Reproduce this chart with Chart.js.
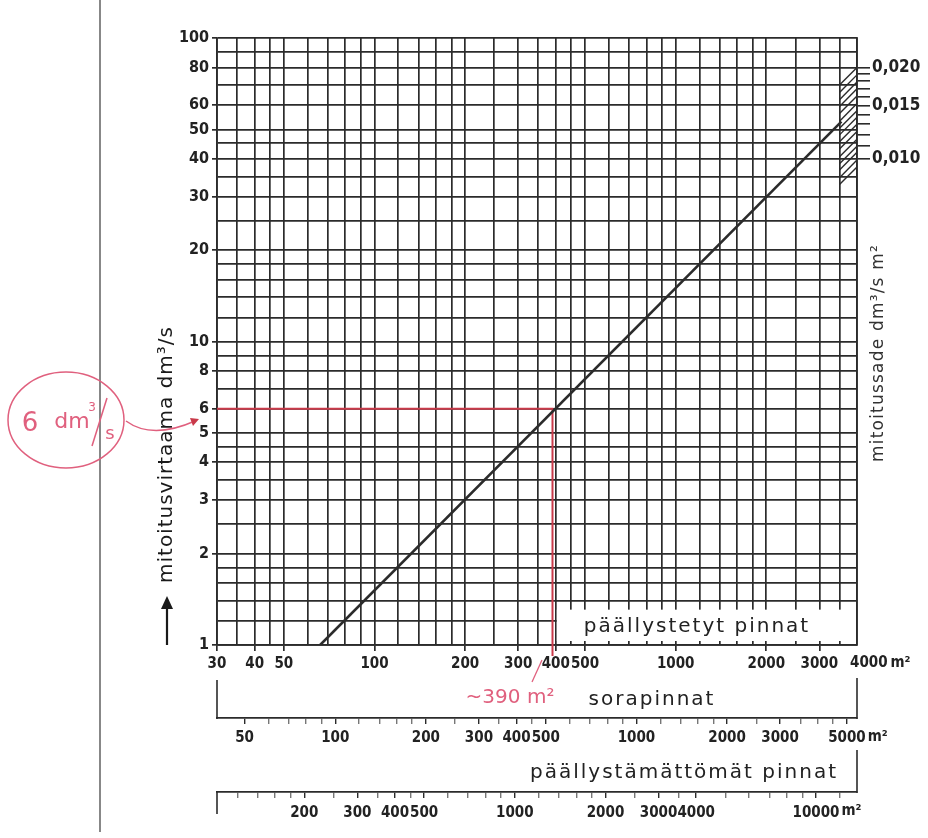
<!DOCTYPE html>
<html>
<head>
<meta charset="utf-8">
<script src="https://cdn.jsdelivr.net/npm/chart.js@4.4.1/dist/chart.umd.min.js"></script>
<style>
  html, body { margin: 0; padding: 0; background: #fff; }
  #wrap { width: 928px; height: 838px; position: relative; }
</style>
</head>
<body>
<div id="wrap"><canvas id="nomogram"></canvas></div>
<script>
// päällystetyt pinnat (m2) - grid lines and labelled ticks
const gridX  = [30,35,40,45,50,60,70,80,90,100,120,140,160,180,200,250,300,350,400,450,500,600,700,800,900,1000,1200,1400,1600,1800,2000,2500,3000,3500,4000];
const labelX = [30,40,50,100,200,300,400,500,1000,2000,3000];

// mitoitusvirtaama dm3/s
const gridY  = [1,1.2,1.4,1.6,1.8,2,2.5,3,3.5,4,4.5,5,6,7,8,9,10,12,14,16,18,20,25,30,35,40,45,50,60,70,80,90,100];
const labelY = [1,2,3,4,5,6,8,10,20,30,40,50,60,80,100];

// sorapinnat (m2)
const gravelTicks  = [50,60,70,80,90,100,120,140,160,180,200,250,300,350,400,450,500,600,700,800,900,1000,1200,1400,1600,1800,2000,2500,3000,3500,4000,4500,5000];
const gravelLabels = [50,100,200,300,400,500,1000,2000,3000,5000];

// päällystämättömät pinnat (m2)
const unpavedTicks  = [120,140,160,180,200,250,300,350,400,450,500,600,700,800,900,1000,1200,1400,1600,1800,2000,2500,3000,3500,4000,5000,6000,7000,8000,9000,10000,12000];
const unpavedLabels = [200,300,400,500,1000,2000,3000,4000,10000];

// mitoitussade dm3/s m2 (right scale)
const rainTicks  = [0.010,0.011,0.012,0.013,0.014,0.015,0.016,0.017,0.018,0.019,0.020];
const rainLabels = [0.010,0.015,0.020];

// design line (area m2 -> flow dm3/s)
const lineArea = [66, 3550];
const lineFlow = [1, 53];

// red reading: 6 dm3/s -> ~390 m2
const readArea = [30, 390, 390];
const readFlow = [6, 6, 1];

// hatched fan at the right edge
const hatchRates = [0.0094,0.0099,0.0105,0.0110,0.0116,0.0123,0.0130,0.0137,0.0144,0.0152,0.0161,0.0170,0.0179,0.0189,0.0200];
const hatchFrom = 3500;
const hatchTo = 4000;

const INK = '#2b2b2b';
const RED = '#c93a4a';
const PINK = '#e0607e';
const FONT = 'DejaVu Sans';
const TICKFONT = "'DejaVu Sans Condensed', 'DejaVu Sans'";

function fmt(v) {
  return String(v);
}

const datasets = [];
datasets.push({
  data: lineArea.map((a, i) => ({x: a, y: lineFlow[i]})),
  borderColor: INK,
  borderWidth: 2.6
});
datasets.push({
  data: readArea.map((a, i) => ({x: a, y: readFlow[i]})),
  borderColor: RED,
  borderWidth: 2
});
for (let q of hatchRates) {
  datasets.push({
    data: [{x: hatchFrom, y: q * hatchFrom}, {x: hatchTo, y: q * hatchTo}],
    borderColor: INK,
    borderWidth: 1.4
  });
}

function rotText(ctx, txt, x, y, font, color, spacing) {
  ctx.save();
  ctx.translate(x, y);
  ctx.rotate(-Math.PI / 2);
  ctx.font = font;
  ctx.fillStyle = color;
  ctx.letterSpacing = spacing || '0px';
  ctx.textAlign = 'left';
  ctx.textBaseline = 'middle';
  ctx.fillText(txt, 0, 0);
  ctx.restore();
}

function label(ctx, txt, x, y, font, color, spacing, align) {
  ctx.save();
  ctx.font = font;
  ctx.fillStyle = color;
  ctx.letterSpacing = spacing || '0px';
  ctx.textAlign = align || 'center';
  ctx.textBaseline = 'middle';
  ctx.fillText(txt, x, y);
  ctx.restore();
}

function seg(ctx, x1, y1, x2, y2, color, w) {
  ctx.save();
  ctx.strokeStyle = color;
  ctx.lineWidth = w;
  ctx.beginPath();
  ctx.moveTo(x1, y1);
  ctx.lineTo(x2, y2);
  ctx.stroke();
  ctx.restore();
}

const overlay = {
  id: 'overlay',
  beforeDatasetsDraw(chart) {
    const {ctx, scales} = chart;
    const x = scales.x, y = scales.y;
    // box for "päällystetyt pinnat"
    const l = x.getPixelForValue(400) + 1;
    const r = x.getPixelForValue(4000) - 1;
    const t = y.getPixelForValue(1.4) + 9;
    const b = y.getPixelForValue(1) - 4;
    ctx.save();
    ctx.fillStyle = '#fff';
    ctx.fillRect(l, t, r - l, b - t);
    ctx.restore();
  },
  afterDraw(chart) {
    const {ctx, scales} = chart;
    const x = scales.x, y = scales.y, x2 = scales.x2, x3 = scales.x3;
    const L = x.left, R = x.right;

    // page margin line
    seg(ctx, 100, 0, 100, 832, '#555', 1.4);

    // section frames
    seg(ctx, L, 680, L, 719, INK, 1.6);
    seg(ctx, R, 678, R, 719, INK, 1.6);
    seg(ctx, L, 791, L, 814, INK, 1.6);
    seg(ctx, R, 750, R, 793, INK, 1.6);

    // texts in the sections
    label(ctx, 'päällystetyt pinnat', 697, 627, '20px ' + FONT, '#222', '2px');
    label(ctx, 'sorapinnat', 652, 700, '20px ' + FONT, '#222', '2px');
    label(ctx, 'päällystämättömät pinnat', 684, 773, '20px ' + FONT, '#222', '2px');

    // end labels with units
    const tf = 'bold 15px ' + TICKFONT;
    label(ctx, '4000', R - 7, 663, tf, '#222', '0px', 'left');
    ctx.font = tf;
    let w4 = ctx.measureText('4000').width;
    label(ctx, 'm²', R - 7 + w4 + 3, 663, tf, '#222', '0px', 'left');
    let w5 = ctx.measureText('5000').width;
    label(ctx, 'm²', x2.getPixelForValue(5000) + w5 / 2 + 2, 737, tf, '#222', '0px', 'left');
    let w10 = ctx.measureText('10000').width;
    label(ctx, 'm²', x3.getPixelForValue(10000) + w10 / 2 + 2, 811, tf, '#222', '0px', 'left');

    // axis titles
    rotText(ctx, 'mitoitusvirtaama dm³/s', 167, 583, '20px ' + FONT, '#1a1a1a', '1px');
    seg(ctx, 167, 645, 167, 604, '#1a1a1a', 2.2);
    ctx.save();
    ctx.fillStyle = '#1a1a1a';
    ctx.beginPath();
    ctx.moveTo(167, 596);
    ctx.lineTo(161, 609);
    ctx.lineTo(173, 609);
    ctx.closePath();
    ctx.fill();
    ctx.restore();
    rotText(ctx, 'mitoitussade dm³/s m²', 879, 462, '17px ' + FONT, '#333', '1.2px');

    // handwritten reading
    const rx = x.getPixelForValue(390);
    seg(ctx, rx, y.bottom, rx, 656, RED, 2);
    seg(ctx, 542, 660, 532, 682, PINK, 1.3);
    label(ctx, '~390 m²', 510, 698, '20px ' + FONT, PINK, '0px');

    ctx.save();
    ctx.strokeStyle = PINK;
    ctx.lineWidth = 1.5;
    ctx.beginPath();
    ctx.ellipse(66, 420, 58, 48, 0, 0, Math.PI * 2);
    ctx.stroke();
    ctx.beginPath();
    ctx.moveTo(126, 421);
    ctx.quadraticCurveTo(152, 440, 195, 421);
    ctx.stroke();
    ctx.beginPath();
    ctx.moveTo(107, 398);
    ctx.lineTo(92, 446);
    ctx.stroke();
    ctx.fillStyle = RED;
    ctx.beginPath();
    ctx.moveTo(199, 419);
    ctx.lineTo(190, 418);
    ctx.lineTo(193, 426);
    ctx.closePath();
    ctx.fill();
    ctx.restore();
    label(ctx, '6', 30, 424, '26px ' + FONT, PINK, '0px');
    label(ctx, 'dm', 72, 422, '22px ' + FONT, PINK, '0px');
    label(ctx, '3', 92, 408, '12px ' + FONT, PINK, '0px');
    label(ctx, 's', 110, 434, '18px ' + FONT, PINK, '0px');
  }
};

function bottomAxis(min, max, ticks, labels, h, weight, pad) {
  return {
    type: 'logarithmic',
    position: 'bottom',
    weight: weight,
    min: min,
    max: max,
    afterBuildTicks: s => { s.ticks = ticks.map(v => ({value: v})); },
    afterFit: s => { s.height = h; },
    ticks: {
      autoSkip: false,
      maxRotation: 0,
      minRotation: 0,
      padding: pad,
      color: '#222',
      font: {family: TICKFONT, size: 15, weight: 'bold'},
      callback: v => labels.includes(v) ? fmt(v) : ''
    },
    grid: {
      drawOnChartArea: false,
      tickLength: 6,
      lineWidth: 1.4,
      tickColor: c => (c.tick && labels.includes(c.tick.value)) ? INK : '#777'
    },
    border: {display: true, color: INK, width: 1.8}
  };
}

const ctx = document.getElementById('nomogram').getContext('2d');
const nomogram = new Chart(ctx, {
  type: 'line',
  data: {datasets: datasets},
  plugins: [overlay],
  options: {
    responsive: true,
    maintainAspectRatio: false,
    animation: false,
    events: [],
    layout: {padding: {top: 38, bottom: 10, left: 0, right: 0}},
    elements: {point: {radius: 0}, line: {tension: 0}},
    plugins: {legend: {display: false}, tooltip: {enabled: false}},
    scales: {
      x: {
        type: 'logarithmic',
        position: 'bottom',
        weight: 0,
        min: 30,
        max: 4000,
        afterBuildTicks: s => { s.ticks = gridX.map(v => ({value: v})); },
        afterFit: s => { s.height = 73; },
        ticks: {
          autoSkip: false,
          maxRotation: 0,
          minRotation: 0,
          padding: 4,
          color: '#222',
          font: {family: TICKFONT, size: 15, weight: 'bold'},
          callback: v => labelX.includes(v) ? fmt(v) : ''
        },
        grid: {
          color: INK,
          lineWidth: 1.7,
          tickLength: 6,
          tickColor: c => (c.tick && labelX.includes(c.tick.value)) ? INK : 'rgba(0,0,0,0)'
        },
        border: {display: true, color: INK, width: 1.8}
      },
      x2: bottomAxis(40.5, 5400, gravelTicks, gravelLabels, 74, 1, 5),
      x3: bottomAxis(102.6, 13680, unpavedTicks, unpavedLabels, 36, 2, 6),
      y: {
        type: 'logarithmic',
        position: 'left',
        min: 1,
        max: 100,
        afterBuildTicks: s => { s.ticks = gridY.map(v => ({value: v})); },
        afterFit: s => { s.width = 217; },
        ticks: {
          autoSkip: false,
          padding: 3,
          color: '#222',
          font: {family: TICKFONT, size: 16, weight: 'bold'},
          callback: v => labelY.includes(v) ? fmt(v) : ''
        },
        grid: {
          color: INK,
          lineWidth: 1.7,
          tickLength: 5,
          tickColor: c => (c.tick && labelY.includes(c.tick.value)) ? INK : 'rgba(0,0,0,0)'
        },
        border: {display: true, color: INK, width: 1.8}
      },
      y2: {
        type: 'logarithmic',
        position: 'right',
        min: 1 / 4000,
        max: 100 / 4000,
        afterBuildTicks: s => { s.ticks = rainTicks.map(v => ({value: v})); },
        afterFit: s => { s.width = 71; },
        ticks: {
          autoSkip: false,
          padding: 2,
          color: '#222',
          font: {family: TICKFONT, size: 17, weight: 'bold'},
          callback: v => rainLabels.some(r => Math.abs(r - v) < 1e-9) ? v.toFixed(3).replace('.', ',') : ''
        },
        grid: {drawOnChartArea: false, tickLength: 13, lineWidth: 1.6, tickColor: INK},
        border: {display: true, color: INK, width: 1.8}
      }
    }
  }
});
</script>
</body>
</html>
